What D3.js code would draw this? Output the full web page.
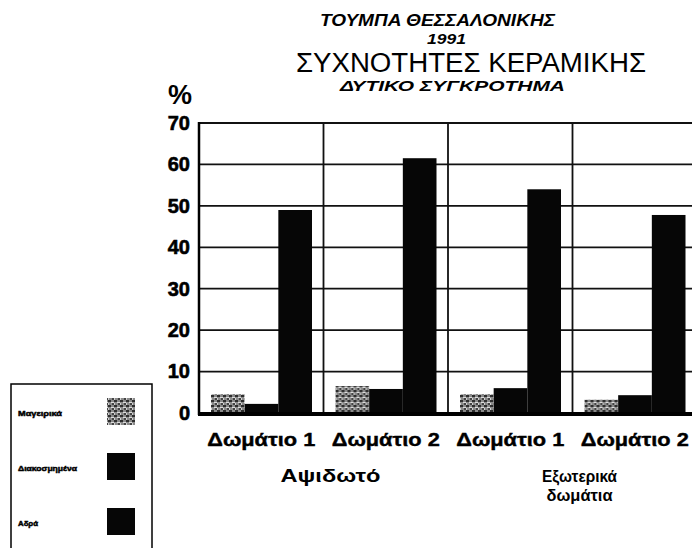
<!DOCTYPE html>
<html>
<head>
<meta charset="utf-8">
<script src="https://cdn.jsdelivr.net/npm/d3@7"></script>
<style>
  html, body { margin: 0; padding: 0; background: #fff; }
  svg { display: block; }
  text { font-family: Arial, "Liberation Sans", Helvetica, sans-serif; fill: #000; }
</style>
</head>
<body>
<svg id="chart" width="692" height="548"></svg>
<script>
// ---- data ----
const categories = ["Δωμάτιο 1", "Δωμάτιο 2", "Δωμάτιο 1", "Δωμάτιο 2"];
const seriesNames = ["Μαγειρικά", "Διακοσμημένα", "Αδρά"];
const mageirika = [4.5, 6.5, 4.5, 3.2];
const diakosmimena = [2.2, 5.8, 6.0, 4.3];
const adra = [49, 61.5, 54, 47.8];
const yTicks = [0, 10, 20, 30, 40, 50, 60, 70];
const groupLabels = [["Αψιδωτό"], ["Εξωτερικά", "δωμάτια"]];
const groupSpans = [[0, 1], [2, 3]];
const titleLines = ["ΤΟΥΜΠΑ ΘΕΣΣΑΛΟΝΙΚΗΣ", "1991", "ΣΥΧΝΟΤΗΤΕΣ ΚΕΡΑΜΙΚΗΣ", "ΔΥΤΙΚΟ ΣΥΓΚΡΟΤΗΜΑ"];
const yUnit = "%";

const seriesValues = [mageirika, diakosmimena, adra];

// ---- layout ----
const svg = d3.select("#chart");
const plot = { left: 199, right: 697, top: 123, bottom: 413 };

const defs = svg.append("defs");
const pat = defs.append("pattern")
  .attr("id", "texture").attr("patternUnits", "userSpaceOnUse")
  .attr("width", 6).attr("height", 5);
pat.append("rect").attr("width", 6).attr("height", 5).attr("fill", "#8a8a8a");
pat.append("rect").attr("x", 0).attr("y", 0).attr("width", 3).attr("height", 2).attr("fill", "#2e2e2e");
pat.append("rect").attr("x", 3).attr("y", 2).attr("width", 3).attr("height", 1).attr("fill", "#dcdcdc");
pat.append("rect").attr("x", 4).attr("y", 3).attr("width", 2).attr("height", 2).attr("fill", "#444");
pat.append("rect").attr("x", 0).attr("y", 3).attr("width", 1).attr("height", 2).attr("fill", "#d0d0d0");

const fills = ["url(#texture)", "#060606", "#060606"];

const x0 = d3.scaleBand().domain(d3.range(categories.length))
  .range([plot.left, plot.right]).paddingInner(0).paddingOuter(0);
const x1 = d3.scaleBand().domain(d3.range(seriesNames.length))
  .range([12, 113]).padding(0);
const y = d3.scaleLinear().domain([0, 70]).range([plot.bottom, plot.top]);

// gridlines
svg.append("g").selectAll("line").data(yTicks.filter(d => d > 0)).join("line")
  .attr("x1", plot.left).attr("x2", plot.right)
  .attr("y1", d => y(d)).attr("y2", d => y(d))
  .attr("stroke", "#111").attr("stroke-width", 1.8);

// vertical separators
svg.append("g").selectAll("line").data(d3.range(1, categories.length)).join("line")
  .attr("x1", d => x0(d)).attr("x2", d => x0(d))
  .attr("y1", y(70)).attr("y2", y(0))
  .attr("stroke", "#111").attr("stroke-width", 1.8);

// bars
const groups = svg.append("g").selectAll("g").data(categories.map((c, i) => i)).join("g")
  .attr("transform", i => `translate(${x0(i)},0)`);
groups.selectAll("rect")
  .data(i => seriesValues.map((vals, s) => ({ s, v: vals[i] })))
  .join("rect")
  .attr("x", d => x1(d.s)).attr("width", x1.bandwidth())
  .attr("y", d => y(d.v)).attr("height", d => y(0) - y(d.v))
  .attr("fill", d => fills[d.s]);

// axes lines
svg.append("line").attr("x1", plot.left).attr("x2", plot.left)
  .attr("y1", y(70) - 1).attr("y2", y(0) + 2)
  .attr("stroke", "#000").attr("stroke-width", 2.5);
svg.append("line").attr("x1", plot.left - 1).attr("x2", plot.right)
  .attr("y1", y(0) + 1).attr("y2", y(0) + 1)
  .attr("stroke", "#000").attr("stroke-width", 4);

// y tick labels
const yAxis = d3.axisLeft(y).tickValues(yTicks).tickSize(0).tickPadding(9);
const ya = svg.append("g").attr("transform", `translate(${plot.left},0)`).call(yAxis);
ya.select(".domain").remove();
ya.selectAll("text").attr("font-size", 20).attr("font-weight", "bold")
  .attr("fill", "#000").attr("stroke", "#000").attr("stroke-width", 0.6)
  .style("font-family", "Arial, 'Liberation Sans', sans-serif");

// y unit
svg.append("text").attr("x", 180).attr("y", 104).attr("text-anchor", "middle")
  .attr("font-size", 27).attr("font-weight", "bold").text(yUnit);

// x category labels
const xAxis = d3.axisBottom(x0).tickSize(0).tickPadding(0).tickFormat(i => categories[i]);
const xa = svg.append("g").attr("transform", `translate(0,${y(0)})`).call(xAxis);
xa.select(".domain").remove();
xa.selectAll("text").attr("y", 33).attr("dy", null)
  .attr("font-size", 18).attr("font-weight", "bold").attr("fill", "#000")
  .attr("stroke", "#000").attr("stroke-width", 0.4)
  .style("font-family", "Arial, 'Liberation Sans', sans-serif")
  .attr("textLength", 108).attr("lengthAdjust", "spacingAndGlyphs");

// group labels
const groupLabelW = [[100], [75, 66]];
const gl = svg.append("g");
groupLabels.forEach((lines, gi) => {
  const [a, b] = groupSpans[gi];
  const cx = (x0(a) + x0(b) + x0.bandwidth()) / 2 + 7;
  lines.forEach((ln, li) => {
    gl.append("text").attr("x", cx).attr("y", 482 + li * 19)
      .attr("text-anchor", "middle").attr("font-size", gi === 0 ? 19 : 17)
      .attr("font-weight", "bold")
      .attr("textLength", groupLabelW[gi][li]).attr("lengthAdjust", "spacingAndGlyphs")
      .text(ln);
  });
});

// titles
svg.append("text").attr("x", 320).attr("y", 26).attr("font-size", 17)
  .attr("font-weight", "bold").attr("font-style", "italic")
  .attr("textLength", 235).attr("lengthAdjust", "spacingAndGlyphs").text(titleLines[0]);
svg.append("text").attr("x", 427).attr("y", 44).attr("font-size", 15)
  .attr("font-weight", "bold").attr("font-style", "italic")
  .attr("textLength", 39).attr("lengthAdjust", "spacingAndGlyphs").text(titleLines[1]);
svg.append("text").attr("x", 296).attr("y", 72).attr("font-size", 27)
  .style("font-family", "'Liberation Sans Narrow', Arial, sans-serif")
  .attr("textLength", 350).attr("lengthAdjust", "spacingAndGlyphs").text(titleLines[2]);
svg.append("text").attr("x", 340).attr("y", 91).attr("font-size", 14)
  .attr("font-weight", "bold").attr("font-style", "italic")
  .attr("textLength", 225).attr("lengthAdjust", "spacingAndGlyphs").text(titleLines[3]);

// legend
const lg = svg.append("g");
lg.append("rect").attr("x", 11).attr("y", 384).attr("width", 141).attr("height", 180)
  .attr("fill", "none").attr("stroke", "#000").attr("stroke-width", 1.5);
const legendLabelW = [44, 59, 20];
seriesNames.forEach((name, i) => {
  const yy = 398 + i * 55;
  lg.append("rect").attr("x", 107).attr("y", yy).attr("width", 28).attr("height", 27)
    .attr("fill", fills[i]);
  lg.append("text").attr("x", 18).attr("y", yy + 18).attr("font-size", 8)
    .attr("font-weight", "bold").attr("stroke", "#000").attr("stroke-width", 0.5)
    .attr("textLength", legendLabelW[i])
    .attr("lengthAdjust", "spacingAndGlyphs").text(name);
});
</script>
</body>
</html>
